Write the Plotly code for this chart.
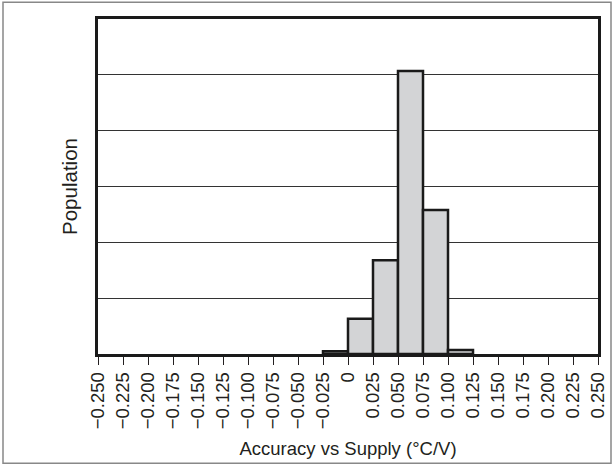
import plotly.graph_objects as go

# bin edges (left) and bar heights
bin_left = [-0.025, 0.0, 0.025, 0.05, 0.075, 0.1]
counts = [0.05, 0.63, 1.68, 5.07, 2.58, 0.07]

tick_vals = [-0.25, -0.225, -0.2, -0.175, -0.15, -0.125, -0.1, -0.075, -0.05, -0.025,
             0, 0.025, 0.05, 0.075, 0.1, 0.125, 0.15, 0.175, 0.2, 0.225, 0.25]
tick_text = ["\u22120.250", "\u22120.225", "\u22120.200", "\u22120.175", "\u22120.150",
             "\u22120.125", "\u22120.100", "\u22120.075", "\u22120.050", "\u22120.025",
             "0", "0.025", "0.050", "0.075", "0.100", "0.125", "0.150", "0.175",
             "0.200", "0.225", "0.250"]

bin_w = 0.025

fig = go.Figure()
fig.add_trace(go.Bar(
    x=bin_left, y=counts, width=bin_w, offset=0,
    marker=dict(color="#d3d4d6", line=dict(color="#1a1a1a", width=2.5)),
    showlegend=False,
))

fig.update_layout(
    width=613, height=466,
    margin=dict(l=98, r=15, t=19, b=112),
    paper_bgcolor="white", plot_bgcolor="white",
    font=dict(family="Liberation Sans, Arial, sans-serif", color="#231f20", size=19),
    xaxis=dict(
        range=[-0.25, 0.25], tickvals=tick_vals, ticktext=tick_text, automargin=False,
        tickangle=-90, ticks="outside", ticklen=8, tickcolor="#231f20", tickwidth=1,
        showgrid=False, zeroline=False,
        showline=True, linecolor="#1a1a1a", linewidth=2.5, mirror=True,
        tickfont=dict(size=18.5),
        title=dict(text="Accuracy vs Supply (°C/V)", font=dict(size=18.5), standoff=14),
    ),
    yaxis=dict(
        range=[0, 6], dtick=1, showticklabels=False, ticks="", automargin=False,
        showgrid=True, gridcolor="#333", gridwidth=1, zeroline=False,
        showline=True, linecolor="#1a1a1a", linewidth=2.5, mirror=True,
        title=dict(text="Population", font=dict(size=20.5), standoff=13),
    ),
    shapes=[dict(type="rect", xref="paper", yref="paper",
                 x0=-0.19, x1=1.026, y0=-0.326, y1=1.05,
                 line=dict(color="#888", width=1.5), layer="below")],
)

fig.write_html("out.html", config={"displayModeBar": False},
               post_script="document.body.style.margin='0';")
